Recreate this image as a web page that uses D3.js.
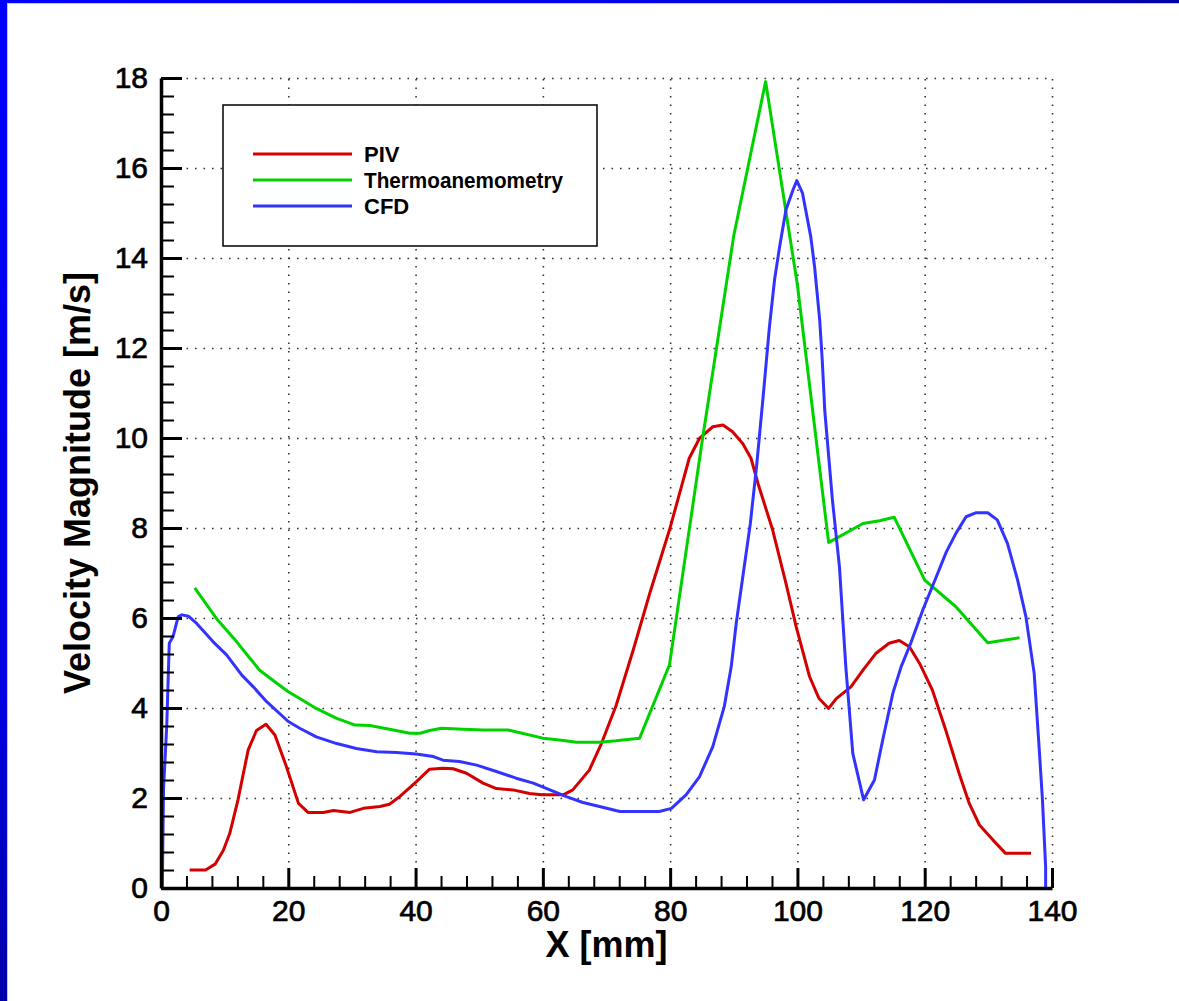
<!DOCTYPE html>
<html>
<head>
<meta charset="utf-8">
<script src="https://cdn.jsdelivr.net/npm/d3@7"></script>
<style>
  body { margin: 0; background: #fff; }
  svg { display: block; font-family: "Liberation Sans", Arial, sans-serif; }
</style>
</head>
<body>
<div id="chart"></div>
<script>
// data: X [mm] and velocity [m/s]
const pivX = [4.5, 7, 8.5, 9.8, 10.8, 12.1, 13.7, 15.0, 16.5, 17.9, 19.7, 21.6, 23.1, 25.5, 27.1, 29.7, 31.8, 34.4, 35.9, 37.5, 40.1, 42.2, 44.3, 45.9, 48.0, 50.6, 52.7, 55.3, 57.9, 59.8, 63.2, 64.7, 67.3, 69.2, 71.5, 74.2, 76.8, 79.9, 81.7, 83.0, 84.6, 86.7, 88.3, 89.8, 91.4, 92.7, 93.8, 96.1, 98.2, 99.8, 101.9, 103.4, 104.9, 106.1, 108.4, 110.3, 112.3, 114.4, 116.0, 117.6, 119.2, 121.2, 123.3, 125.4, 127.0, 128.6, 130.7, 132.7, 136.7];
const pivV = [0.4, 0.4, 0.53, 0.84, 1.21, 1.96, 3.07, 3.5, 3.64, 3.4, 2.7, 1.88, 1.68, 1.68, 1.72, 1.68, 1.77, 1.81, 1.86, 2.03, 2.36, 2.64, 2.66, 2.65, 2.55, 2.33, 2.21, 2.18, 2.1, 2.07, 2.07, 2.18, 2.62, 3.21, 4.05, 5.29, 6.55, 7.96, 8.88, 9.55, 9.99, 10.25, 10.29, 10.14, 9.88, 9.55, 8.99, 7.96, 6.77, 5.81, 4.7, 4.21, 3.99, 4.21, 4.47, 4.84, 5.21, 5.44, 5.5, 5.36, 4.99, 4.4, 3.51, 2.55, 1.88, 1.4, 1.07, 0.77, 0.77];

const thermoX = [5.3, 8.7, 11.9, 14.0, 15.5, 18.2, 20.0, 21.8, 24.4, 27.6, 30.5, 32.8, 35.9, 39.1, 40.7, 42.2, 44.1, 47.5, 50.6, 54.5, 56.4, 60.0, 62.6, 65.3, 68.9, 71.5, 75.2, 79.9, 85, 90, 95, 100, 104.9, 106.1, 110.3, 112.9, 115.2, 120.0, 124.9, 129.9, 134.9];
const thermoV = [6.67, 5.99, 5.47, 5.1, 4.84, 4.55, 4.36, 4.21, 3.99, 3.77, 3.62, 3.61, 3.53, 3.44, 3.44, 3.5, 3.55, 3.53, 3.51, 3.51, 3.45, 3.33, 3.29, 3.24, 3.24, 3.27, 3.33, 4.96, 9.9, 14.5, 17.92, 13.4, 7.68, 7.77, 8.1, 8.16, 8.24, 6.84, 6.25, 5.45, 5.56];

const cfdX = [0.2, 0.4, 0.9, 1.3, 1.9, 2.7, 3.3, 4.3, 5.6, 8.2, 10.3, 12.7, 14.5, 16.6, 20.0, 21.8, 24.4, 27.6, 30.7, 33.9, 37.0, 40.1, 42.8, 44.3, 46.9, 49.6, 52.7, 55.8, 58.5, 61.1, 63.7, 66.3, 68.9, 72.1, 78.3, 80.2, 82.5, 84.6, 86.7, 88.5, 89.6, 90.4, 91.5, 92.6, 93.6, 94.6, 95.6, 96.4, 97.2, 98.2, 99.3, 99.9, 100.8, 102.1, 102.7, 103.5, 103.9, 104.3, 105.5, 106.6, 107.6, 108.7, 110.4, 112.1, 113.4, 115.0, 116.3, 117.8, 119.7, 121.2, 123.4, 124.9, 126.5, 128.1, 129.9, 131.4, 133.0, 134.6, 135.9, 137.2, 138.0, 138.5, 139.0, 139.0];
const cfdV = [0, 2.2, 3.6, 5.44, 5.59, 6.03, 6.07, 6.04, 5.88, 5.47, 5.18, 4.73, 4.47, 4.14, 3.7, 3.55, 3.36, 3.21, 3.1, 3.03, 3.01, 2.98, 2.92, 2.84, 2.81, 2.73, 2.59, 2.44, 2.33, 2.18, 2.03, 1.9, 1.81, 1.7, 1.7, 1.77, 2.07, 2.47, 3.14, 4.03, 4.92, 5.9, 7.0, 8.1, 9.4, 10.9, 12.47, 13.51, 14.25, 15.07, 15.51, 15.72, 15.44, 14.47, 13.8, 12.62, 11.73, 10.6, 8.62, 7.14, 4.92, 2.99, 1.96, 2.4, 3.29, 4.33, 4.92, 5.44, 6.18, 6.7, 7.47, 7.88, 8.25, 8.34, 8.34, 8.18, 7.66, 6.84, 6.03, 4.77, 3.07, 1.96, 0.47, 0];

const seriesNames = ["PIV", "Thermoanemometry", "CFD"];
const seriesColors = ["#d40000", "#00d200", "#3333ff"];
const xTicks = [0, 20, 40, 60, 80, 100, 120, 140];
const yTicks = [0, 2, 4, 6, 8, 10, 12, 14, 16, 18];

const W = 1179, H = 1001;

const svg = d3.select("#chart").append("svg")
    .attr("width", W)
    .attr("height", H);

// slide background: blue frame with white page
const grad = svg.append("defs").append("linearGradient")
    .attr("id", "frame")
    .attr("x1", 0).attr("y1", 0).attr("x2", 1).attr("y2", 1);
grad.append("stop").attr("offset", 0).attr("stop-color", "#0000ff");
grad.append("stop").attr("offset", 0.35).attr("stop-color", "#0000e0");
grad.append("stop").attr("offset", 0.55).attr("stop-color", "#000098");
grad.append("stop").attr("offset", 1).attr("stop-color", "#000070");

svg.append("rect").attr("width", W).attr("height", H).attr("fill", "url(#frame)");
svg.append("rect")
    .attr("x", 7.5).attr("y", 3.5)
    .attr("width", W).attr("height", H)
    .attr("fill", "#fff")
    .attr("stroke", "#c8c8c8");

const x = d3.scaleLinear().domain([0, 140]).range([161, 1052]);
const y = d3.scaleLinear().domain([0, 18]).range([888, 78]);

// dotted grid
svg.append("g")
    .attr("transform", `translate(0,${y(0)})`)
    .call(d3.axisBottom(x).tickValues(xTicks.slice(1)).tickSize(-(y(0) - y(18))).tickFormat("").tickSizeOuter(0))
    .call(g => g.select(".domain").remove())
    .selectAll("line")
    .attr("stroke", "#333")
    .attr("stroke-width", 1.6)
    .attr("stroke-dasharray", "1.6,6.9");

svg.append("g")
    .attr("transform", `translate(${x(0)},0)`)
    .call(d3.axisLeft(y).tickValues(yTicks.slice(1)).tickSize(-(x(140) - x(0))).tickFormat("").tickSizeOuter(0))
    .call(g => g.select(".domain").remove())
    .selectAll("line")
    .attr("stroke", "#333")
    .attr("stroke-width", 1.6)
    .attr("stroke-dasharray", "1.6,6.9");

// legend box (white, hides grid behind it)
const legend = svg.append("g");
legend.append("rect")
    .attr("x", 223).attr("y", 105)
    .attr("width", 374).attr("height", 141)
    .attr("fill", "#fff")
    .attr("stroke", "#000")
    .attr("stroke-width", 1.5);

seriesNames.forEach((name, i) => {
    const ly = 154 + i * 26;
    legend.append("line")
        .attr("x1", 253).attr("x2", 352)
        .attr("y1", ly).attr("y2", ly)
        .attr("stroke", seriesColors[i])
        .attr("stroke-width", 3);
    legend.append("text")
        .attr("x", 364).attr("y", ly + 8)
        .attr("font-size", 22)
        .attr("font-weight", "bold")
        .attr("textLength", name.length > 4 ? 199 : null)
        .attr("lengthAdjust", "spacingAndGlyphs")
        .text(name);
});

// curves
const line = d3.line()
    .x(d => x(d[0]))
    .y(d => y(d[1]));

const series = [
    d3.zip(pivX, pivV),
    d3.zip(thermoX, thermoV),
    d3.zip(cfdX, cfdV)
];

series.forEach((data, i) => {
    svg.append("path")
        .datum(data)
        .attr("fill", "none")
        .attr("stroke", seriesColors[i])
        .attr("stroke-width", 3)
        .attr("stroke-linejoin", "round")
        .attr("d", line);
});

// axes: minor ticks, then major ticks with labels
const xMinor = d3.range(0, 141, 4).filter(v => v % 20 !== 0);
const yMinor = d3.range(0, 18.01, 0.4).map(v => +v.toFixed(1)).filter(v => Math.abs(v / 2 - Math.round(v / 2)) > 0.01);

svg.append("g")
    .attr("transform", `translate(0,${y(0)})`)
    .call(d3.axisBottom(x).tickValues(xMinor).tickSize(-12).tickFormat("").tickSizeOuter(0))
    .call(g => g.select(".domain").remove())
    .selectAll("line").attr("stroke", "#000").attr("stroke-width", 2);

svg.append("g")
    .attr("transform", `translate(${x(0)},0)`)
    .call(d3.axisLeft(y).tickValues(yMinor).tickSize(-13).tickFormat("").tickSizeOuter(0))
    .call(g => g.select(".domain").remove())
    .selectAll("line").attr("stroke", "#000").attr("stroke-width", 2);

const xAxis = svg.append("g")
    .attr("transform", `translate(0,${y(0)})`)
    .call(d3.axisBottom(x).tickValues(xTicks).tickSize(-20).tickPadding(12).tickSizeOuter(0).tickFormat(d3.format("d")));

const yAxis = svg.append("g")
    .attr("transform", `translate(${x(0)},0)`)
    .call(d3.axisLeft(y).tickValues(yTicks).tickSize(-21).tickPadding(13).tickSizeOuter(0).tickFormat(d3.format("d")));

[xAxis, yAxis].forEach(g => {
    g.select(".domain").attr("stroke", "#000").attr("stroke-width", 3.5);
    g.selectAll("line").attr("stroke", "#000").attr("stroke-width", 3);
    g.selectAll("text")
        .attr("fill", "#000")
        .attr("stroke", "#000")
        .attr("stroke-width", 0.7)
        .attr("font-size", 30)
        .attr("font-family", "Liberation Sans, Arial, sans-serif");
});

// axis titles
svg.append("text")
    .attr("x", (x(0) + x(140)) / 2)
    .attr("y", 957)
    .attr("text-anchor", "middle")
    .attr("font-size", 36)
    .attr("font-weight", "bold")
    .text("X [mm]");

svg.append("text")
    .attr("transform", `translate(90,${(y(0) + y(18)) / 2}) rotate(-90)`)
    .attr("text-anchor", "middle")
    .attr("font-size", 36)
    .attr("font-weight", "bold")
    .text("Velocity Magnitude [m/s]");
</script>
</body>
</html>
